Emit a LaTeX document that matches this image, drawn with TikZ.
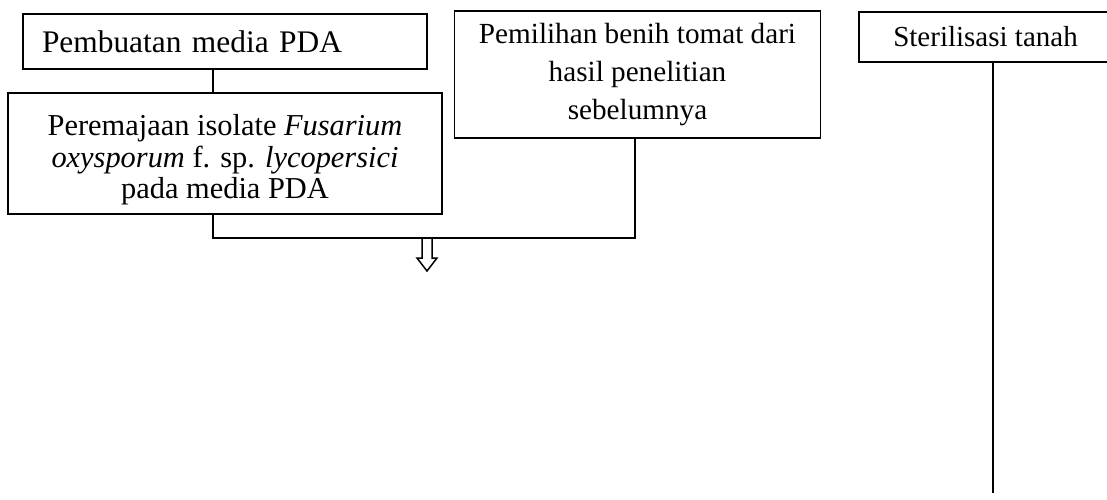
\documentclass[tikz,border=0pt]{standalone}
\usepackage{fontspec}
\setmainfont{Liberation Serif}
\begin{document}
\begin{tikzpicture}[x=0.5pt,y=-0.5pt,
  box/.style={draw,line width=0.75pt,inner sep=0pt,align=center},
  txt/.style={inner sep=0pt,align=center},
  link/.style={line width=0.75pt}]
\useasboundingbox (0,0) rectangle (1107,499);
\clip (0,0) rectangle (1107,499);
% boxes
\node[box,minimum width=202pt,minimum height=27.5pt,text width=183pt,align=left,inner xsep=9.5pt,
  font=\fontsize{15.7pt}{18pt}\selectfont] (b1) at (225,41.5) {Pembuatan media PDA};
\node[box,minimum width=217pt,minimum height=60.5pt] (b2) at (225,153.5) {};
\node[txt,font=\fontsize{15.2pt}{15.8pt}\selectfont] (b2t) at (225,160)
  {Peremajaan isolate \textit{Fusarium}\\ \textit{oxysporum} f. sp. \textit{lycopersici}\\ pada media PDA};
\node[box,minimum width=183pt,minimum height=63.5pt,
  font=\fontsize{14.6pt}{19pt}\selectfont] (b3) at (637.5,74.5)
  {Pemilihan benih tomat dari\\ hasil penelitian\\ sebelumnya};
\node[box,minimum width=126.5pt,minimum height=25pt,
  font=\fontsize{14.5pt}{16pt}\selectfont] (b4) at (985.5,37) {Sterilisasi tanah};
% junction coordinates
\coordinate (j1) at (213,238);
\coordinate (j2) at (635,238);
\coordinate (e4) at (993,493);
\coordinate (ar) at (427,238);
% connectors
\draw[link] (b1.south -| j1) -- (b2.north -| j1);
\draw[link] (b2.south -| j1) -- (j1) -- (j2) -- (b3.south -| j2);
\draw[link] (b4.south -| e4) -- (e4);
% hollow down arrow
\draw[line width=0.75pt,line join=miter] (ar) ++(-5,1) -- ++(0,19) -- ++(-5,0) -- ++(10,13) -- ++(10,-13) -- ++(-5,0) -- ++(0,-19);
\end{tikzpicture}
\end{document}
